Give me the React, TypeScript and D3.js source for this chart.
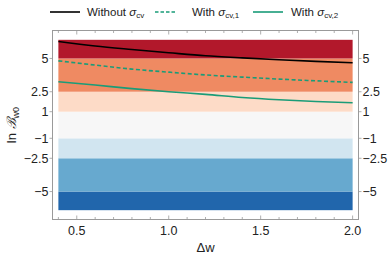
import React from "react";
import * as d3 from "d3";

const xs = [0.4, 0.6, 0.8, 1.0, 1.2, 1.4, 1.6, 1.8, 2.0];
const without = [6.27, 5.93, 5.67, 5.43, 5.2, 5.04, 4.9, 4.78, 4.68];
const with1 = [4.82, 4.5, 4.2, 3.97, 3.76, 3.6, 3.45, 3.32, 3.2];
const with2 = [3.25, 3.0, 2.73, 2.5, 2.3, 2.07, 1.9, 1.77, 1.67];
const bandEdges = [-6.4, -5, -2.5, -1, 1, 2.5, 5, 6.4];
const bandColors = ["#2166ac", "#67a9cf", "#d1e5f0", "#f7f7f7", "#fddbc7", "#ef8a62", "#b2182b"];
const yTicks = [-5, -2.5, -1, 1, 2.5, 5];
const xTicks = [0.5, 1.0, 1.5, 2.0];
const xMinor = d3.range(4, 21).map((d) => d / 10);

const W = 390, H = 261;
const L = 52.5, R = 358.5, T = 30.5, B = 219.5;
const GREEN = "#1a9c78";
const FRAME = "#9a9a9a";
const TXT = "#222";
const FONT = "'Liberation Sans', Arial, sans-serif";

export default function App() {
  const x = d3.scaleLinear().domain([0.368, 2.032]).range([L, R]);
  const y = d3.scaleLinear().domain([-7.1, 7.1]).range([B, T]);
  const line = d3.line<number>().x((_, i) => x(xs[i])).y((d) => y(d)).curve(d3.curveMonotoneX);
  const fmt = (v: number) => (v < 0 ? "\u2212" + Math.abs(v) : String(v));
  return (
    <svg width={W} height={H} style={{ position: "absolute", left: 0, top: 0, fontFamily: FONT }}>
      <rect width={W} height={H} fill="#fff" />
      {bandColors.map((c, i) => (
        <rect key={i} x={x(0.4)} width={x(2.0) - x(0.4)} y={y(bandEdges[i + 1])} height={y(bandEdges[i]) - y(bandEdges[i + 1])} fill={c} />
      ))}
      <path d={line(without) || ""} fill="none" stroke="#000" strokeWidth={1.6} />
      <path d={line(with1) || ""} fill="none" stroke={GREEN} strokeWidth={1.6} strokeDasharray="4,2.5" />
      <path d={line(with2) || ""} fill="none" stroke={GREEN} strokeWidth={1.6} />
      <rect x={L} y={T} width={R - L} height={B - T} fill="none" stroke={FRAME} strokeWidth={1} />
      {xMinor.map((v) => {
        const major = xTicks.some((t) => Math.abs(t - v) < 1e-6);
        const len = major ? 4 : 2.5;
        return (
          <g key={v} stroke={FRAME} strokeWidth={0.8}>
            <line x1={x(v)} x2={x(v)} y1={B} y2={B - len} />
            <line x1={x(v)} x2={x(v)} y1={T} y2={T + len} />
          </g>
        );
      })}
      {xTicks.map((v) => (
        <text key={v} x={x(v)} y={235} textAnchor="middle" fontSize={12.5} fill={TXT}>{v.toFixed(1)}</text>
      ))}
      {yTicks.map((v) => (
        <g key={v}>
          <line x1={L - 3} x2={L} y1={y(v)} y2={y(v)} stroke={FRAME} strokeWidth={0.8} />
          <line x1={R} x2={R + 3} y1={y(v)} y2={y(v)} stroke={FRAME} strokeWidth={0.8} />
          <text x={L - 4} y={y(v) + 4.5} textAnchor="end" fontSize={12.5} fill={TXT}>{fmt(v)}</text>
          <text x={R + 4} y={y(v) + 4.5} textAnchor="start" fontSize={12.5} fill={TXT}>{fmt(v)}</text>
        </g>
      ))}
      <text x={(L + R) / 2} y={252} textAnchor="middle" fontSize={13} fill={TXT}>Δw</text>
      <text transform={`translate(16,${(T + B) / 2}) rotate(-90)`} textAnchor="middle" fontSize={13} fill={TXT}>
        ln <tspan fontStyle="italic">ℬ</tspan><tspan fontSize={9} dy={3}>w0</tspan>
      </text>
      <g fontSize={11.5} fill={TXT}>
        <line x1={50} x2={80} y1={12} y2={12} stroke="#000" strokeWidth={1.6} />
        <text x={87} y={16}>Without <tspan fontStyle="italic">σ</tspan><tspan fontSize={8} dy={2}>cv</tspan></text>
        <line x1={155} x2={177} y1={12} y2={12} stroke={GREEN} strokeWidth={1.6} strokeDasharray="3.5,2" />
        <text x={192} y={16}>With <tspan fontStyle="italic">σ</tspan><tspan fontSize={8} dy={2}>cv,1</tspan></text>
        <line x1={253} x2={283} y1={12} y2={12} stroke={GREEN} strokeWidth={1.6} />
        <text x={291} y={16}>With <tspan fontStyle="italic">σ</tspan><tspan fontSize={8} dy={2}>cv,2</tspan></text>
      </g>
    </svg>
  );
}
